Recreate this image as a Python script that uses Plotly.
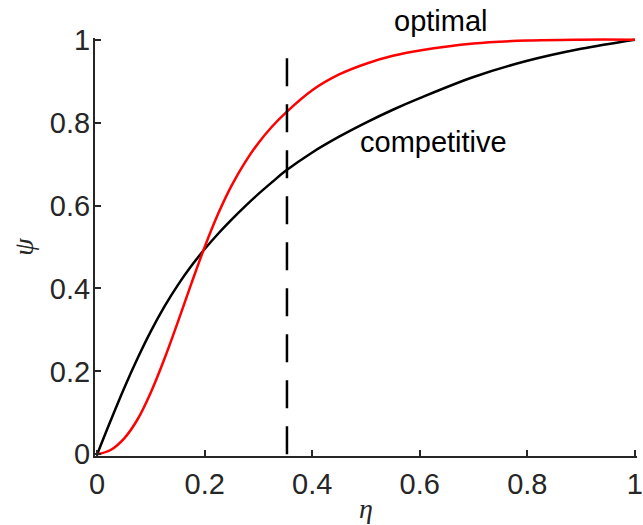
import plotly.graph_objects as go

eta = [0, 0.025, 0.05, 0.075, 0.1, 0.125, 0.15, 0.175, 0.2, 0.225, 0.25, 0.275, 0.3, 0.325, 0.35,
       0.4, 0.45, 0.5, 0.55, 0.6, 0.7, 0.8, 0.9, 1.0]
competitive = [0, 0.081, 0.159, 0.231, 0.297, 0.356, 0.408, 0.454, 0.495, 0.532, 0.566, 0.598, 0.628, 0.656, 0.683,
               0.728, 0.766, 0.800, 0.831, 0.859, 0.910, 0.949, 0.978, 1.0]
optimal = [0, 0.0105, 0.038, 0.084, 0.150, 0.230, 0.319, 0.411, 0.500, 0.580, 0.648, 0.704, 0.751, 0.790, 0.823,
           0.878, 0.916, 0.942, 0.961, 0.974, 0.991, 0.998, 1.0, 1.0]

eta_star = 0.353
dash_top = 0.97

tick_vals = [0, 0.2, 0.4, 0.6, 0.8, 1]
tick_text = ["0", "0.2", "0.4", "0.6", "0.8", "1"]

fig = go.Figure()
fig.add_trace(go.Scatter(x=eta, y=competitive, mode="lines",
                         line=dict(color="black", width=2.5, shape="spline", smoothing=1), showlegend=False))
fig.add_trace(go.Scatter(x=eta, y=optimal, mode="lines",
                         line=dict(color="red", width=2.5, shape="spline", smoothing=1), showlegend=False))
fig.add_trace(go.Scatter(x=[eta_star, eta_star], y=[0, dash_top], mode="lines",
                         line=dict(color="black", width=2.5, dash="28px,18px"), showlegend=False))

font_main = dict(family="Liberation Sans, Arial, Helvetica", size=29, color="#262626")
label_font = dict(family="Liberation Sans, Arial", size=29, color="black")

fig.add_annotation(x=0.64, y=1.04, xref="x", yref="paper", yanchor="middle", xanchor="center",
                   text="optimal", showarrow=False, font=label_font)
fig.add_annotation(x=0.625, y=0.754, xref="x", yref="y", yanchor="middle", xanchor="center",
                   text="competitive", showarrow=False, font=label_font)

axis_common = dict(
    showline=True, linecolor="#262626", linewidth=2,
    ticks="inside", ticklen=6, tickwidth=2, tickcolor="#262626",
    showgrid=False, zeroline=False,
    tickvals=tick_vals, ticktext=tick_text,
    tickfont=font_main, ticklabeloverflow="allow", automargin=False,
)

fig.update_layout(
    width=643, height=525,
    margin=dict(l=95, r=6, t=38, b=69, autoexpand=False),
    paper_bgcolor="white", plot_bgcolor="white",
    xaxis=dict(range=[-0.004, 1.004], ticklabelstandoff=1,
               title=dict(text="<i>η</i>", font=dict(family="Liberation Serif, Times New Roman", size=28, color="#262626"), standoff=0),
               **axis_common),
    yaxis=dict(range=[-0.004, 1.004], ticklabelstandoff=-3,
               title=dict(text="<i>ψ</i>", font=dict(family="Liberation Serif, Times New Roman", size=28, color="#262626"), standoff=8),
               **axis_common),
)

fig.write_html("out.html")
